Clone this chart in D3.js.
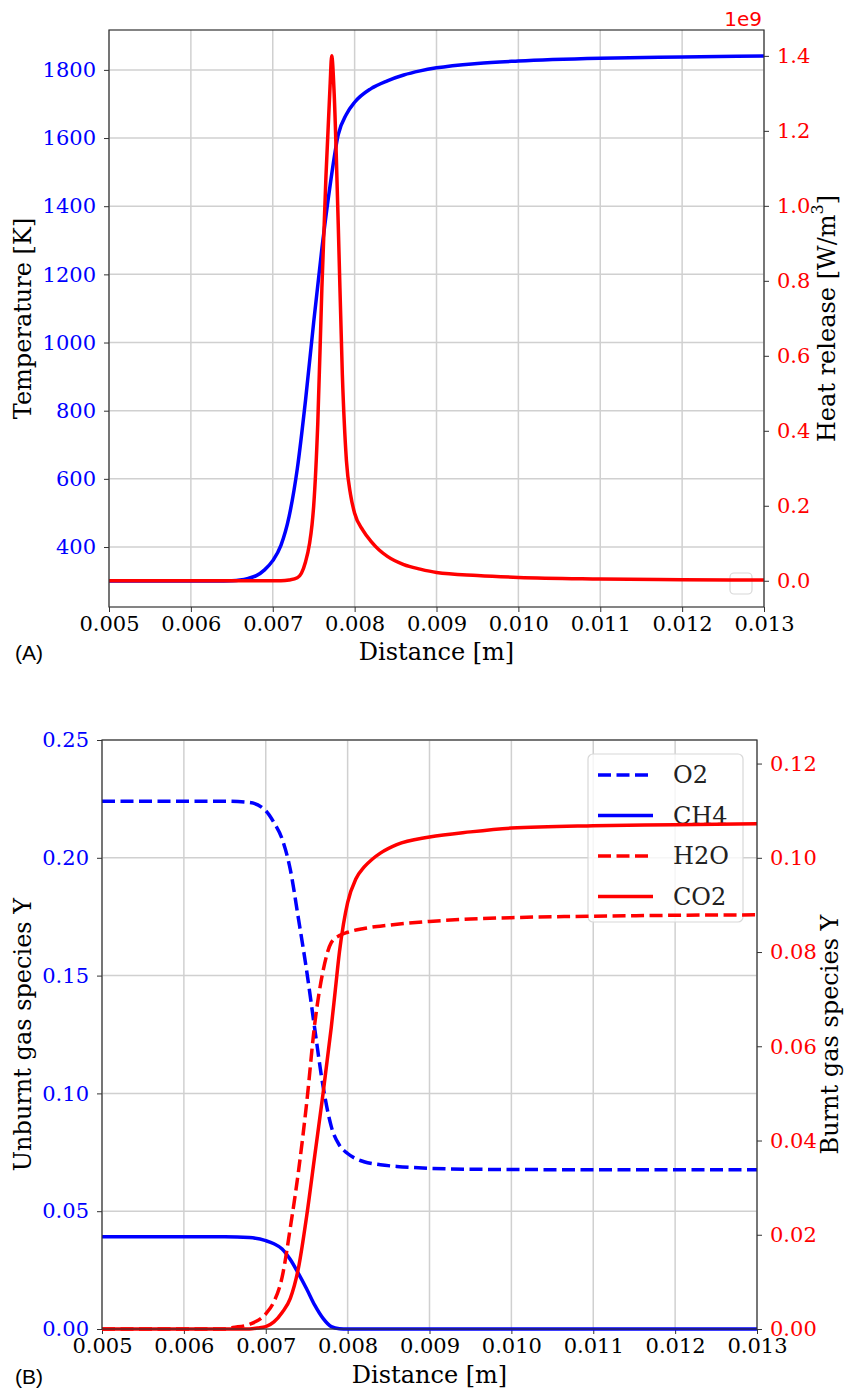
<!DOCTYPE html>
<html>
<head>
<meta charset="utf-8">
<script src="https://cdn.jsdelivr.net/npm/d3@7"></script>
<style>
  body { margin: 0; background: #fff; }
  svg { display: block; }
</style>
</head>
<body>
<div id="chart"></div>
<script>
// ---- data ----
var xTicks = [0.005, 0.006, 0.007, 0.008, 0.009, 0.010, 0.011, 0.012, 0.013];
var tempTicks = [400, 600, 800, 1000, 1200, 1400, 1600, 1800];
var hrrTicks = [0, 0.2, 0.4, 0.6, 0.8, 1.0, 1.2, 1.4];
var unburntTicks = [0, 0.05, 0.10, 0.15, 0.20, 0.25];
var burntTicks = [0, 0.02, 0.04, 0.06, 0.08, 0.10, 0.12];

// panel A: temperature [K]
var tempX = [0.005, 0.0063, 0.0065, 0.0066, 0.0067, 0.0068, 0.0069, 0.0070, 0.0071, 0.0072, 0.0073, 0.0074, 0.0075, 0.0076, 0.0077, 0.0078, 0.0079, 0.0080, 0.0082, 0.0084, 0.0086, 0.0088, 0.0090, 0.0095, 0.010, 0.011, 0.012, 0.013];
var tempY = [300, 300, 301, 303, 308, 316, 333, 360, 405, 490, 630, 830, 1060, 1275, 1460, 1610, 1670, 1705, 1745, 1768, 1785, 1797, 1806, 1819, 1826, 1834, 1838, 1841];

// panel A: heat release, in units of 1e9 W/m3
var hrrX = [0.005, 0.0071, 0.0072, 0.0073, 0.00735, 0.0074, 0.00745, 0.00748, 0.0075, 0.00755, 0.0076, 0.00765, 0.0077, 0.00772, 0.00775, 0.0078, 0.00785, 0.0079, 0.00795, 0.0080, 0.0081, 0.0082, 0.0083, 0.0084, 0.0086, 0.0088, 0.0090, 0.0095, 0.010, 0.011, 0.012, 0.013];
var hrrY = [0, 0, 0.002, 0.008, 0.02, 0.05, 0.10, 0.15, 0.20, 0.42, 0.78, 1.08, 1.32, 1.40, 1.30, 0.95, 0.55, 0.32, 0.23, 0.18, 0.135, 0.105, 0.082, 0.065, 0.043, 0.031, 0.022, 0.014, 0.009, 0.005, 0.003, 0.002];

// panel B: species mass fractions
var o2X = [0.005, 0.0065, 0.0068, 0.0070, 0.0071, 0.0072, 0.0073, 0.0074, 0.0075, 0.0076, 0.0077, 0.0078, 0.0079, 0.0080, 0.0082, 0.0084, 0.0086, 0.0090, 0.0095, 0.010, 0.011, 0.013];
var o2Y = [0.2240, 0.2240, 0.2235, 0.2200, 0.2150, 0.2080, 0.1950, 0.1740, 0.1520, 0.1270, 0.1030, 0.0860, 0.0780, 0.0745, 0.0710, 0.0697, 0.0690, 0.0682, 0.0678, 0.0677, 0.0676, 0.0676];

var ch4X = [0.005, 0.0065, 0.0068, 0.0070, 0.0071, 0.0072, 0.0073, 0.0074, 0.0075, 0.0076, 0.0077, 0.0078, 0.0079, 0.0080, 0.013];
var ch4Y = [0.0392, 0.0392, 0.0388, 0.0375, 0.0362, 0.0340, 0.0295, 0.0235, 0.0170, 0.0100, 0.0045, 0.0010, 0.0001, 0, 0];

var h2oX = [0.005, 0.0065, 0.0066, 0.0068, 0.0070, 0.0071, 0.0072, 0.0073, 0.0074, 0.0075, 0.0076, 0.0077, 0.0078, 0.0079, 0.0080, 0.0082, 0.0085, 0.0090, 0.0095, 0.010, 0.011, 0.012, 0.013];
var h2oY = [0, 0, 0.0003, 0.0010, 0.0032, 0.0058, 0.0110, 0.0215, 0.0335, 0.0480, 0.0650, 0.0760, 0.0820, 0.0835, 0.0842, 0.0850, 0.0857, 0.0865, 0.0870, 0.0873, 0.0876, 0.0878, 0.0879];

var co2X = [0.005, 0.0068, 0.0069, 0.0070, 0.0071, 0.0072, 0.0073, 0.0074, 0.0075, 0.0076, 0.0077, 0.00775, 0.0078, 0.00785, 0.0079, 0.00795, 0.0080, 0.0081, 0.0082, 0.0083, 0.0084, 0.0086, 0.0090, 0.0095, 0.010, 0.011, 0.012, 0.013];
var co2Y = [0, 0, 0.0002, 0.0005, 0.0015, 0.0035, 0.0065, 0.0130, 0.0240, 0.0370, 0.0500, 0.0570, 0.0640, 0.0720, 0.0800, 0.0860, 0.0905, 0.0955, 0.0980, 0.0997, 0.1010, 0.1028, 0.1044, 0.1055, 0.1063, 0.1068, 0.1070, 0.1072];

var species = [
  { name: "O2", xs: o2X, ys: o2Y, color: "#0000ff", dash: "13,5.5", axis: "left" },
  { name: "CH4", xs: ch4X, ys: ch4Y, color: "#0000ff", dash: null, axis: "left" },
  { name: "H2O", xs: h2oX, ys: h2oY, color: "#ff0000", dash: "13,5.5", axis: "right" },
  { name: "CO2", xs: co2X, ys: co2Y, color: "#ff0000", dash: null, axis: "right" },
];

var serif = "'DejaVu Serif', serif";
var sans = "'Liberation Sans', Arial, sans-serif";
var lineW = 3.5;

var svg = d3.select("#chart").append("svg")
  .attr("width", 845)
  .attr("height", 1388);

function zip(xs, ys) {
  return xs.map(function (x, i) { return [x, ys[i]]; });
}

function styleAxis(g, color) {
  g.select(".domain").remove();
  g.selectAll(".tick line").attr("stroke", "#333").attr("stroke-width", 1);
  g.selectAll(".tick text")
    .attr("fill", color)
    .style("font-family", serif)
    .style("font-size", "21px");
}

function panel(box, x, yL, yR, yLTicks, yRTicks, fmtL, fmtR) {
  var g = svg.append("g");

  // grid
  g.selectAll(".vgrid").data(xTicks).enter().append("line")
    .attr("x1", function (d) { return x(d); })
    .attr("x2", function (d) { return x(d); })
    .attr("y1", box.top).attr("y2", box.bottom)
    .attr("stroke", "#d0d0d0").attr("stroke-width", 1.5);
  g.selectAll(".hgrid").data(yLTicks).enter().append("line")
    .attr("x1", box.left).attr("x2", box.right)
    .attr("y1", function (d) { return yL(d); })
    .attr("y2", function (d) { return yL(d); })
    .attr("stroke", "#d0d0d0").attr("stroke-width", 1.5);

  var xa = g.append("g")
    .attr("transform", "translate(0," + box.bottom + ")")
    .call(d3.axisBottom(x).tickValues(xTicks).tickFormat(d3.format(".3f")).tickSize(5).tickPadding(4));
  styleAxis(xa, "#000");

  var la = g.append("g")
    .attr("transform", "translate(" + box.left + ",0)")
    .call(d3.axisLeft(yL).tickValues(yLTicks).tickFormat(fmtL).tickSize(5).tickPadding(8));
  styleAxis(la, "#0000ff");

  var ra = g.append("g")
    .attr("transform", "translate(" + box.right + ",0)")
    .call(d3.axisRight(yR).tickValues(yRTicks).tickFormat(fmtR).tickSize(5).tickPadding(8));
  styleAxis(ra, "#ff0000");

  return g;
}

function spine(box) {
  svg.append("rect")
    .attr("x", box.left).attr("y", box.top)
    .attr("width", box.right - box.left).attr("height", box.bottom - box.top)
    .attr("fill", "none").attr("stroke", "#333").attr("stroke-width", 1.2);
}

function drawLine(data, x, y, color, dash) {
  var line = d3.line()
    .x(function (d) { return x(d[0]); })
    .y(function (d) { return y(d[1]); })
    .curve(d3.curveMonotoneX);
  svg.append("path")
    .datum(data)
    .attr("d", line)
    .attr("fill", "none")
    .attr("stroke", color)
    .attr("stroke-width", lineW)
    .attr("stroke-dasharray", dash);
}

function vlabel(text, cx, cy) {
  return svg.append("text")
    .attr("transform", "translate(" + cx + "," + cy + ") rotate(-90)")
    .attr("text-anchor", "middle")
    .attr("dominant-baseline", "central")
    .style("font-family", serif)
    .style("font-size", "24px")
    .text(text);
}

// ---------- (A) ----------
var boxA = { left: 109, right: 764, top: 30, bottom: 607 };
var xA = d3.scaleLinear().domain([0.005, 0.013]).range([boxA.left, boxA.right]);
var tA = d3.scaleLinear().domain([224, 1917]).range([boxA.bottom, boxA.top]);
var hA = d3.scaleLinear().domain([-0.07, 1.469]).range([boxA.bottom, boxA.top]);

panel(boxA, xA, tA, hA, tempTicks, hrrTicks, d3.format("d"), d3.format(".1f"));

// empty legend box
svg.append("rect")
  .attr("x", 730).attr("y", 573).attr("width", 22).attr("height", 21)
  .attr("rx", 4).attr("fill", "#fff").attr("fill-opacity", 0.8)
  .attr("stroke", "#d8d8d8").attr("stroke-width", 1.2);

drawLine(zip(tempX, tempY), xA, tA, "#0000ff", null);
drawLine(zip(hrrX, hrrY), xA, hA, "#ff0000", null);
spine(boxA);

svg.append("text")
  .attr("x", 762).attr("y", 26)
  .attr("text-anchor", "end")
  .attr("fill", "#ff0000")
  .style("font-family", "'DejaVu Sans', sans-serif")
  .style("font-size", "20px")
  .text("1e9");

vlabel("Temperature [K]", 23, (boxA.top + boxA.bottom) / 2);
var hl = vlabel("Heat release [W/m", 827, (boxA.top + boxA.bottom) / 2);
hl.append("tspan").attr("baseline-shift", "super").style("font-size", "16px").text("3");
hl.append("tspan").text("]");

svg.append("text")
  .attr("x", (boxA.left + boxA.right) / 2).attr("y", 660)
  .attr("text-anchor", "middle")
  .style("font-family", serif).style("font-size", "24px")
  .text("Distance [m]");

svg.append("text")
  .attr("x", 15).attr("y", 660)
  .style("font-family", sans).style("font-size", "21px")
  .text("(A)");

// ---------- (B) ----------
var boxB = { left: 102, right: 757, top: 740, bottom: 1329 };
var xB = d3.scaleLinear().domain([0.005, 0.013]).range([boxB.left, boxB.right]);
var uB = d3.scaleLinear().domain([0, 0.25]).range([boxB.bottom, boxB.top]);
var bB = d3.scaleLinear().domain([0, 0.125]).range([boxB.bottom, boxB.top]);

panel(boxB, xB, uB, bB, unburntTicks, burntTicks, d3.format(".2f"), d3.format(".2f"));

species.filter(function (s) { return s.axis === "left"; }).forEach(function (s) {
  drawLine(zip(s.xs, s.ys), xB, uB, s.color, s.dash);
});

// legend (belongs to the left axes, so right-axis lines draw over it)
var leg = svg.append("g").attr("transform", "translate(588,754)");
leg.append("rect")
  .attr("width", 155).attr("height", 168).attr("rx", 5)
  .attr("fill", "#fff").attr("fill-opacity", 0.8)
  .attr("stroke", "#d8d8d8").attr("stroke-width", 1.2);
species.forEach(function (s, i) {
  var yy = 21 + i * 40.5;
  leg.append("line")
    .attr("x1", 10).attr("x2", 65).attr("y1", yy).attr("y2", yy)
    .attr("stroke", s.color).attr("stroke-width", lineW)
    .attr("stroke-dasharray", s.dash);
  leg.append("text")
    .attr("x", 85).attr("y", yy)
    .attr("dominant-baseline", "central")
    .style("font-family", serif).style("font-size", "24px")
    .attr("fill", "#222")
    .text(s.name);
});

species.filter(function (s) { return s.axis === "right"; }).forEach(function (s) {
  drawLine(zip(s.xs, s.ys), xB, bB, s.color, s.dash);
});
spine(boxB);

vlabel("Unburnt gas species Y", 23, (boxB.top + boxB.bottom) / 2);
vlabel("Burnt gas species Y", 830, (boxB.top + boxB.bottom) / 2);

svg.append("text")
  .attr("x", (boxB.left + boxB.right) / 2).attr("y", 1383)
  .attr("text-anchor", "middle")
  .style("font-family", serif).style("font-size", "24px")
  .text("Distance [m]");

svg.append("text")
  .attr("x", 15).attr("y", 1384)
  .style("font-family", sans).style("font-size", "21px")
  .text("(B)");
</script>
</body>
</html>
